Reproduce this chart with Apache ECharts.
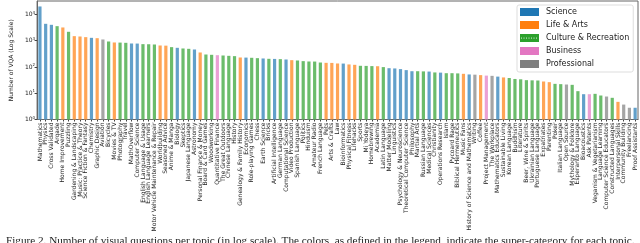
<!DOCTYPE html>
<html>
<head>
<meta charset="utf-8">
<script src="https://cdn.jsdelivr.net/npm/echarts@6/dist/echarts.min.js"></script>
<style>
html,body{margin:0;padding:0;background:#fff;}
#c{width:640px;height:243px;}
</style>
</head>
<body>
<div id="c"></div>
<script>
const superCategories = ['Science', 'Life & Arts', 'Culture & Recreation', 'Business', 'Professional'];
const barColors = ['#62a0ca', '#ffa556', '#6bbc6b', '#eba0d4', '#a5a5a5'];
const legendColors = ['#1f77b4', '#ff7f0e', '#2ca02c', '#e377c2', '#7f7f7f'];

const topics = [
 'Mathematics','Physics','Cross Validated','Arqade','Home Improvement','Puzzling','Gardening & Landscaping','Music: Practice & Theory','Science Fiction & Fantasy','Chemistry',
 'Graphic Design','Aviation','Bicycles','Movies & TV','Photography','Travel','MathOverflow','Computer Science','English Language & Usage','English Language Learners',
 'Motor Vehicle Maintenance & Repair','Worldbuilding','Seasoned Advice','Anime & Manga','Biology','Skeptics','Japanese Language','Astronomy','Personal Finance & Money','Board & Card Games',
 'Woodworking','Quantitative Finance','The Great Outdoors','Chinese Language','History','Genealogy & Family History','Economics','Role-playing Games','Chess','Earth Science',
 'Bricks','Artificial Intelligence','German Language','Computational Science','Video Production','Spanish Language','Politics','Hinduism','Amateur Radio','French Language',
 'Pets','Arts & Crafts','Law','Bioinformatics','Physical Fitness','Lifehacks','Sports','Mi Yodeya','Homebrewing','Academia',
 'Latin Language','Matter Modeling','Linguistics','Psychology & Neuroscience','Theoretical Computer Science','Philosophy','Martial Arts','Russian Language','Medical Sciences','Christianity',
 'Operations Research','Islam','Pycoard Rage','Biblical Hermeneutics','Music Fans','History of Science and Mathematics','Writing','Coffee','Project Management','The Workplace',
 'Mathematics Educators','Sustainable Living','Korean Language','Buddhism','Literature','Beer, Wine & Spirits','Ukrainian Language','Portuguese Language','Expatriates','Parenting',
 'Poker','Italian Language','Open Source','Mythology & Folklore','Esperanto Language','Bioacoustics','Ask Patents','Veganism & Vegetarianism','Language Learning','Computer Science Educators',
 'Constructed Languages','Interpersonal Skills','Community Building','Freelancing','Proof Assistants'
];

const counts = [
 20200,4410,4040,3590,3200,2190,1495,1450,1370,1290,
 1250,1116,936,858,850,833,785,780,741,735,
 719,659,650,570,537,507,492,464,357,299,
 291,282,274,266,259,230,228,224,217,211,
 205,203,199,193,182,177,167,162,161,148,
 144,143,136,135,125,121,111,110,108,107,
 99,90,88,83,76,69,69,68,67,62,
 61,58,58,57,55,52,51,49,47,46,
 43,40,38,35,34,31.5,31,30.6,28,26.4,
 22.8,22.2,21.5,20.9,12,9.2,9.2,9.5,8.2,7.5,
 6.7,4.7,3.7,2.8,2.8
];

// 0 Science, 1 Life & Arts, 2 Culture & Recreation, 3 Business, 4 Professional
const groups = [
 0,0,0,2,1,2,1,1,1,0,
 1,4,2,1,2,2,0,0,2,2,
 2,1,1,2,0,2,2,0,1,2,
 2,3,2,2,2,1,0,2,2,0,
 2,0,2,0,1,2,2,2,2,2,
 1,1,1,0,1,1,2,2,2,1,
 2,0,0,0,0,0,2,2,0,2,
 0,2,2,2,1,0,4,1,3,4,
 0,1,2,2,2,2,2,2,1,1,
 2,2,4,2,2,0,3,2,2,4,
 2,1,4,4,0
];

const yTickValues = [1, 10, 100, 1000, 10000];
const caption = 'Figure 2. Number of visual questions per topic (in log scale). The colors, as defined in the legend, indicate the super-category for each topic.';

const chart = echarts.init(document.getElementById('c'), null, {renderer: 'canvas'});

const series = superCategories.map((name, k) => ({
  name: name,
  type: 'bar',
  barWidth: 3.2,
  barGap: '-100%',
  itemStyle: {color: barColors[k]},
  emphasis: {disabled: true},
  data: counts.map((v, i) => groups[i] === k ? v : '-')
}));

function dottedIcon(color) {
  let dots = '';
  for (let x = 1.5; x < 19; x += 2.5) dots += '<circle cx="' + x + '" cy="4" r="0.55" fill="#ffffff"/>';
  const svg = '<svg xmlns="http://www.w3.org/2000/svg" width="19" height="8" viewBox="0 0 19 8">' +
    '<rect width="19" height="8" fill="' + color + '"/>' + dots + '</svg>';
  return 'image://data:image/svg+xml;charset=utf-8,' + encodeURIComponent(svg);
}

const legendData = superCategories.map((name, k) => {
  const it = {name: name, itemStyle: {color: legendColors[k]}};
  if (k === 2) it.icon = dottedIcon(legendColors[k]);
  return it;
});

chart.setOption({
  animation: false,
  textStyle: {fontFamily: 'DejaVu Sans'},
  grid: {left: 22, right: 2, top: 1, bottom: 123.5, show: true, borderColor: '#666', borderWidth: 1, backgroundColor: 'transparent'},
  legend: {
    orient: 'vertical', left: 517, top: 5,
    padding: [3, 4, 4, 3],
    itemWidth: 19, itemHeight: 8, itemGap: 5,
    icon: 'rect',
    borderColor: '#ddd', borderWidth: 1, borderRadius: 2,
    backgroundColor: '#fff',
    textStyle: {fontSize: 8, color: '#222', lineHeight: 8, padding: [0, 0, 0, 2]},
    data: legendData
  },
  xAxis: {
    type: 'category',
    data: topics,
    axisLine: {lineStyle: {color: '#666', width: 1}},
    axisTick: {show: true, alignWithLabel: true, length: 2, lineStyle: {color: '#444'}},
    axisLabel: {interval: 0, rotate: 90, fontSize: 6, color: '#222', margin: 3}
  },
  yAxis: {
    type: 'log',
    logBase: 10,
    min: 1,
    max: 32600,
    name: 'Number of VQA (Log Scale)',
    nameLocation: 'middle',
    nameGap: 16,
    nameTextStyle: {fontSize: 6, color: '#222'},
    axisLine: {show: true, lineStyle: {color: '#666'}},
    axisTick: {show: true, length: 2.5, lineStyle: {color: '#444'},
      customValues: yTickValues},
    splitLine: {show: false},
    axisLabel: {
      fontSize: 6, color: '#222', margin: 2,
      customValues: yTickValues,
      formatter: function (v) {
        const e = Math.round(Math.log10(v));
        return '10{s|' + e + '}';
      },
      rich: {s: {fontSize: 4, verticalAlign: 'top', padding: [0, 0, 4, 0]}}
    }
  },
  graphic: [{
    type: 'text', left: 6, top: 235.5,
    style: {text: caption, font: '11.2px "Liberation Serif"', fill: '#222'}
  }],
  series: series
});
</script>
</body>
</html>
